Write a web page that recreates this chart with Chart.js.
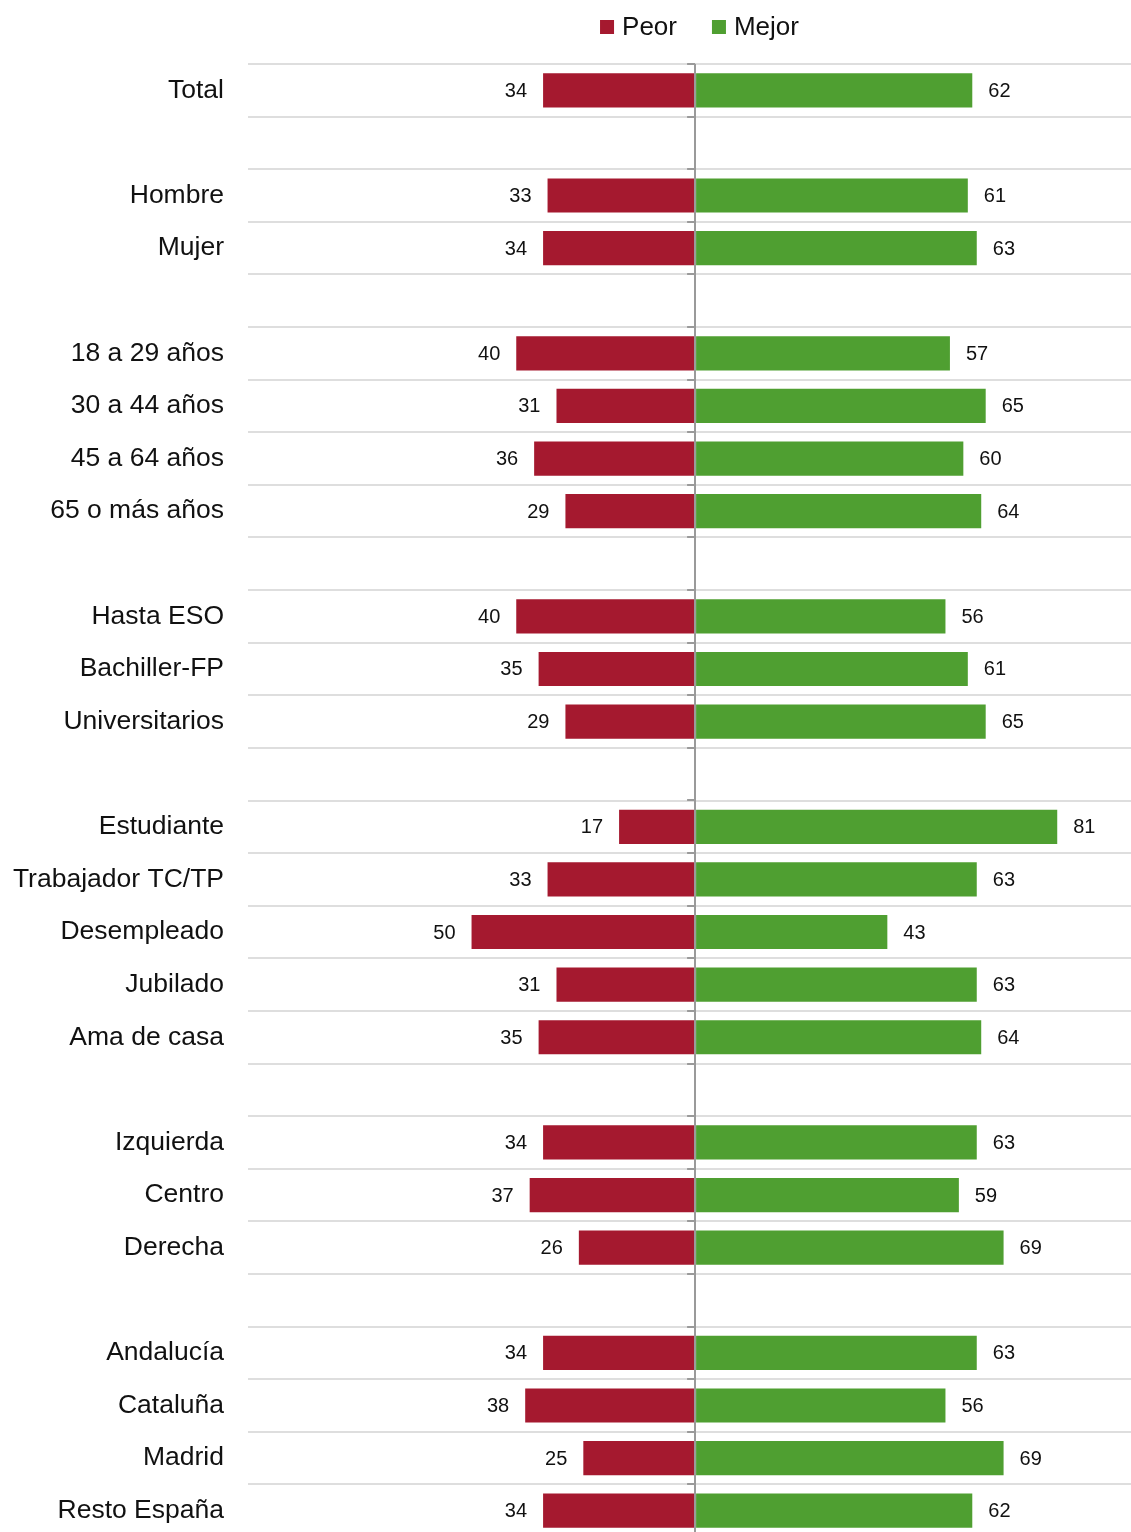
<!DOCTYPE html>
<html>
<head>
<meta charset="utf-8">
<title>Peor / Mejor</title>
<script src="https://cdn.jsdelivr.net/npm/chart.js@4.4.0/dist/chart.umd.min.js"></script>
<style>
  html, body { margin: 0; padding: 0; background: #fff; overflow: hidden; }
  #wrap { width: 1131px; height: 1540px; }
</style>
</head>
<body>
<div id="wrap"><canvas id="opinion-chart"></canvas></div>
<script>
// Rows of the chart, empty strings are the gaps between groups
const categories = [
  'Total', '',
  'Hombre', 'Mujer', '',
  '18 a 29 años', '30 a 44 años', '45 a 64 años', '65 o más años', '',
  'Hasta ESO', 'Bachiller-FP', 'Universitarios', '',
  'Estudiante', 'Trabajador TC/TP', 'Desempleado', 'Jubilado', 'Ama de casa', '',
  'Izquierda', 'Centro', 'Derecha', '',
  'Andalucía', 'Cataluña', 'Madrid', 'Resto España'
];
const peor  = [34, null, 33, 34, null, 40, 31, 36, 29, null, 40, 35, 29, null, 17, 33, 50, 31, 35, null, 34, 37, 26, null, 34, 38, 25, 34];
const mejor = [62, null, 61, 63, null, 57, 65, 60, 64, null, 56, 61, 65, null, 81, 63, 43, 63, 64, null, 63, 59, 69, null, 63, 56, 69, 62];
const seriesNames = ['Peor', 'Mejor'];

const RED = '#a5192f';
const GREEN = '#4f9f31';
const FONT = '"Liberation Sans", Arial, Helvetica, sans-serif';

// value labels at the end of each bar
var valueLabels = {
  id: 'valueLabels',
  afterDatasetsDraw: function (chart) {
    var ctx = chart.ctx;
    ctx.save();
    ctx.font = '20px ' + FONT;
    ctx.fillStyle = '#111';
    ctx.textBaseline = 'middle';
    chart.data.datasets.forEach(function (ds, di) {
      var meta = chart.getDatasetMeta(di);
      var src = di === 0 ? peor : mejor;
      meta.data.forEach(function (bar, i) {
        if (src[i] === null) return;
        if (di === 0) {
          ctx.textAlign = 'right';
          ctx.fillText(String(src[i]), bar.x - 16, bar.y + 1);
        } else {
          ctx.textAlign = 'left';
          ctx.fillText(String(src[i]), bar.x + 16, bar.y + 1);
        }
      });
    });
    ctx.restore();
  }
};

// little tick marks on the zero line, Excel style
var zeroTicks = {
  id: 'zeroTicks',
  afterDraw: function (chart) {
    var ctx = chart.ctx;
    var x0 = chart.scales.x.getPixelForValue(0);
    var y = chart.scales.y;
    var h = y.getPixelForValue(1) - y.getPixelForValue(0);
    ctx.save();
    ctx.strokeStyle = '#9a9a9a';
    ctx.lineWidth = 2;
    for (var i = 0; i <= categories.length; i++) {
      var py = Math.round(y.getPixelForValue(0) - h / 2 + i * h);
      ctx.beginPath();
      ctx.moveTo(x0 - 8, py);
      ctx.lineTo(x0, py);
      ctx.stroke();
    }
    ctx.restore();
  }
};

// legend drawn by hand so box/text spacing matches
var topLegend = {
  id: 'topLegend',
  afterDraw: function (chart) {
    var ctx = chart.ctx;
    var colors = [RED, GREEN];
    ctx.save();
    ctx.font = '26px ' + FONT;
    ctx.textBaseline = 'middle';
    ctx.textAlign = 'left';
    var box = 14, gap = 8, itemGap = 35;
    var widths = seriesNames.map(function (n) { return ctx.measureText(n).width; });
    var total = box + gap + widths[0] + itemGap + box + gap + widths[1];
    var area = chart.chartArea;
    var x = (area.left + area.right) / 2 + 10 - total / 2;
    var cy = 27;
    seriesNames.forEach(function (n, i) {
      ctx.fillStyle = colors[i];
      ctx.fillRect(x, cy - box / 2, box, box);
      x += box + gap;
      ctx.fillStyle = '#111';
      ctx.fillText(n, x, cy + 1);
      x += widths[i] + itemGap;
    });
    ctx.restore();
  }
};

var chartctx = document.getElementById('opinion-chart').getContext('2d');
var opinionChart = new Chart(chartctx, {
  type: 'bar',
  data: {
    labels: categories,
    datasets: [
      {
        label: seriesNames[0],
        data: peor.map(function (v) { return v === null ? null : -v; }),
        backgroundColor: RED,
        barPercentage: 0.65,
        categoryPercentage: 1
      },
      {
        label: seriesNames[1],
        data: mejor,
        backgroundColor: GREEN,
        barPercentage: 0.65,
        categoryPercentage: 1
      }
    ]
  },
  options: {
    indexAxis: 'y',
    responsive: true,
    maintainAspectRatio: false,
    animation: false,
    layout: { padding: { top: 64, bottom: 3, left: 0, right: 0 } },
    plugins: {
      legend: { display: false },
      tooltip: { enabled: false }
    },
    scales: {
      x: {
        stacked: true,
        min: -100,
        max: 97.5,
        ticks: { display: false, stepSize: 10 },
        grid: {
          z: 1,
          drawTicks: false,
          lineWidth: 2,
          color: function (c) {
            return (c.tick && c.tick.value === 0) ? '#9a9a9a' : 'rgba(0,0,0,0)';
          }
        },
        border: { display: false },
        afterFit: function (scale) {
          scale.height = 0;
          scale.paddingLeft = 0;
          scale.paddingRight = 0;
        }
      },
      y: {
        stacked: true,
        grid: { color: '#dedede', lineWidth: 2, drawTicks: false, offset: true },
        border: { display: false },
        ticks: {
          autoSkip: false,
          padding: 24,
          color: '#111',
          font: { size: 26.5, family: FONT }
        },
        afterFit: function (scale) {
          scale.width = 248;
          scale.paddingTop = 0;
          scale.paddingBottom = 0;
        }
      }
    }
  },
  plugins: [valueLabels, zeroTicks, topLegend]
});
</script>
</body>
</html>
